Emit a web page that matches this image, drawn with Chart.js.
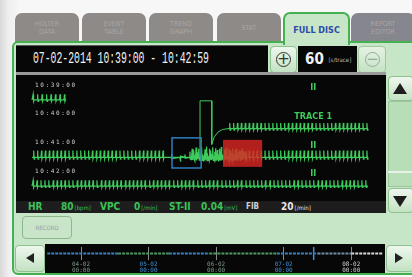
<!DOCTYPE html>
<html>
<head>
<meta charset="utf-8">
<script src="https://cdn.jsdelivr.net/npm/chart.js@4.4.1/dist/chart.umd.min.js"></script>
<style>
body{margin:0;width:412px;height:277px;overflow:hidden;position:relative;background:linear-gradient(to right,#d8d8d8 0,#eeeeee 8px,#f7f7f7 20px);font-family:"Liberation Sans Narrow","DejaVu Sans Condensed",Arial,sans-serif}
.a{position:absolute}
.tab{position:absolute;top:13px;width:64px;height:30px;background:#8e8a88;border-radius:7px 7px 0 0;color:#a9a5a2;font-size:7px;line-height:8px;text-align:center;display:flex;align-items:center;justify-content:center}
#panel{left:12px;top:41px;width:412px;height:230px;background:#c7e6c7;border:2px solid #45b04f;border-radius:6px}
#tabOn{top:12px;left:283px;width:63px;height:31px;background:#c7e6c7;border:2px solid #45b04f;border-bottom:none;border-radius:7px 7px 0 0;color:#2d4aa8;font-weight:bold;font-size:9px;display:flex;align-items:center;justify-content:center;z-index:3}
.blk{background:#070707}
.btn{background:linear-gradient(#eef7ee,#c3e2c3);border:1px solid #8fc08f;border-radius:4px;box-sizing:border-box}
.tri{position:absolute;width:0;height:0}
.st{position:absolute;top:201px;height:12px;line-height:12px;font-weight:bold;font-size:10px;color:#3cc356}
.st small{font-size:6px;font-weight:normal;margin-left:1px}
</style>
</head>
<body>
<div class="tab" style="left:15px">HOLTER<br>DATA</div>
<div class="tab" style="left:82px">EVENT<br>TABLE</div>
<div class="tab" style="left:149px">TREND<br>GRAPH</div>
<div class="tab" style="left:217px">STAT</div>
<div class="tab" style="left:351px;background:#85868e">REPORT<br>EDITOR</div>
<div id="panel" class="a"></div>
<div id="tabOn" class="a">FULL DISC</div>

<div class="a blk" style="left:16px;top:45px;width:252px;height:27px;border-top:1px solid #5a5a5a"></div>
<div class="a" style="left:33px;top:49px;color:#f2f2f2;font-family:'Liberation Mono',monospace;font-size:17px;line-height:20px;white-space:nowrap;transform:scaleX(0.575);transform-origin:0 0">07-02-2014 10:39:00 - 10:42:59</div>
<div class="a btn" style="left:270px;top:46px;width:27px;height:27px"></div>
<div class="a" style="left:276px;top:52px;width:13px;height:13px;border:1.5px solid #333;border-radius:50%;color:#333;font-size:15px;line-height:13px;text-align:center;font-family:'DejaVu Sans',sans-serif">+</div>
<div class="a blk" style="left:298px;top:46px;width:59px;height:27px"></div>
<div class="a" style="left:305px;top:49px;color:#f2f2f2;font-weight:bold;font-size:15px;line-height:20px">60 <span style="font-size:6px;font-weight:normal;color:#bbb;vertical-align:middle">[s/trace]</span></div>
<div class="a btn" style="left:358px;top:46px;width:28px;height:27px;opacity:.75"></div>
<div class="a" style="left:365px;top:52px;width:13px;height:13px;border:1.5px solid #9aaa9a;border-radius:50%;color:#9aaa9a;font-size:15px;line-height:13px;text-align:center;font-family:'DejaVu Sans',sans-serif">&minus;</div>

<div class="a" style="left:16px;top:72px;width:370px;height:3px;background:#9a9a9a"></div>
<div class="a blk" style="left:16px;top:75px;width:370px;height:126px"></div>
<div class="a" style="left:16px;top:201px;width:370px;height:12px;background:#1d1d1d"></div>
<canvas id="ecgChart" class="a" width="370" height="126" style="left:16px;top:75px"></canvas>

<div class="st" style="left:28px">HR</div>
<div class="st" style="left:61px">80<small>[bpm]</small></div>
<div class="st" style="left:100px">VPC</div>
<div class="st" style="left:134px">0<small>[/min]</small></div>
<div class="st" style="left:169px">ST-II</div>
<div class="st" style="left:201px">0.04<small>[mV]</small></div>
<div class="st" style="left:246px;color:#cfcfcf;font-size:8px">FIB</div>
<div class="st" style="left:281px;color:#e8e8e8">20<small>[/min]</small></div>

<div class="a btn" style="left:388px;top:76px;width:26px;height:25px"></div>
<div class="tri" style="left:393px;top:83px;border-left:7px solid transparent;border-right:7px solid transparent;border-bottom:11px solid #1e1e1e"></div>
<div class="a" style="left:388px;top:101px;width:26px;height:86px;background:#b8deb8;border:1px solid #9cc69c;box-sizing:border-box"></div>
<div class="a" style="left:388px;top:171px;width:26px;height:2px;background:#e6f3e6"></div>
<div class="a btn" style="left:388px;top:188px;width:26px;height:25px"></div>
<div class="tri" style="left:393px;top:196px;border-left:7px solid transparent;border-right:7px solid transparent;border-top:11px solid #1e1e1e"></div>

<div class="a btn" style="left:22px;top:216px;width:50px;height:23px;background:#c9e5c9;border-color:#8db88d;color:#9a9a9a;font-size:6px;line-height:21px;text-align:center">RECORD</div>

<div class="a btn" style="left:15px;top:245px;width:30px;height:27px"></div>
<div class="tri" style="left:26px;top:253px;border-top:5px solid transparent;border-bottom:5px solid transparent;border-right:8px solid #222"></div>
<div class="a blk" style="left:45px;top:244px;width:340px;height:29px"></div>
<canvas id="timeChart" class="a" width="340" height="29" style="left:45px;top:244px"></canvas>
<div class="a btn" style="left:386px;top:245px;width:28px;height:27px"></div>
<div class="tri" style="left:395px;top:253px;border-top:5px solid transparent;border-bottom:5px solid transparent;border-left:8px solid #222"></div>

<script>
// seconds inside each 60 s trace
var timeLabels = ['10:39:00', '10:40:00', '10:41:00', '10:42:00'];
var leadLabels = ['II', 'TRACE 1', 'II', 'II'];

var beatsRow1 = [0.2, 1.0, 1.8, 2.6, 3.4, 4.2, 5.0, 5.8];
var beatsRow2 = [35.3, 36.0, 36.7, 37.4, 38.1, 38.8, 39.5, 40.2, 40.9, 41.6, 42.3, 43.0, 43.7, 44.4, 45.1, 45.8, 46.5, 47.2,
    47.9, 48.6, 49.3, 50.0, 50.7, 51.4, 52.1, 52.8, 53.5, 54.2, 54.9, 55.6, 56.3, 57.0, 57.7, 58.4, 59.1, 59.8];
var beatsRow3 = [0.3, 1.0, 1.7, 2.4, 3.1, 3.8, 4.5, 5.2, 5.9, 6.6, 7.3, 8.0, 8.7, 9.4, 10.1, 10.8, 11.5, 12.2, 12.9, 13.6,
    14.3, 15.0, 15.7, 16.4, 17.1, 17.8, 18.5, 19.2, 19.9, 20.6, 21.3, 22.0, 22.7, 23.4,
    38.8, 39.5, 40.2, 40.9, 41.6, 42.3, 43.0, 43.7, 44.4, 45.1, 45.8, 46.5, 47.2, 47.9, 48.6, 49.3, 50.0, 50.7, 51.4,
    52.1, 52.8, 53.5, 54.2, 54.9, 55.6, 56.3, 57.0, 57.7, 58.4, 59.1, 59.8];
var beatsRow4 = [0.2, 0.9, 1.6, 2.3, 3.0, 3.8, 4.5, 5.2, 5.9, 6.6, 7.3, 8.1, 8.8, 9.5, 10.2, 10.9, 11.6, 12.4, 13.1, 13.8,
    14.5, 15.2, 15.9, 16.7, 17.4, 18.1, 18.8, 19.5, 20.2, 21.0, 21.7, 22.4, 23.1, 23.8, 24.5, 25.3, 26.0, 26.7, 27.4,
    28.1, 28.8, 29.6, 30.3, 31.0, 31.7, 32.4, 33.1, 33.9, 34.6, 35.3, 36.0, 36.7, 37.4, 38.2, 38.9, 39.6, 40.3, 41.0,
    41.7, 42.5, 43.2, 43.9, 44.6, 45.3, 46.0, 46.8, 47.5, 48.2, 48.9, 49.6, 50.3, 51.1, 51.8, 52.5, 53.2, 53.9, 54.6,
    55.4, 56.1, 56.8, 57.5, 58.2, 58.9, 59.6];

// artefact burst on trace 3
var noiseT = [24.9, 26.5, 27.3, 28.2, 28.4, 28.6, 28.8, 28.9, 29.1, 29.3, 29.5, 29.6, 29.8, 30.0, 30.2, 30.3, 30.5, 30.7,
    30.9, 31.0, 31.2, 31.4, 31.6, 31.7, 31.9, 32.1, 32.3, 32.4, 32.6, 32.8, 33.0, 33.1, 33.3, 33.5, 33.7, 33.8, 34.0,
    34.2, 34.4, 34.5, 34.7, 34.9, 35.1, 35.2, 35.4, 35.6, 35.8, 35.9, 36.1, 36.3, 36.5, 36.6, 36.8, 37.0, 37.2, 37.3,
    37.5, 37.7, 37.9, 38.1, 38.3];
var noiseA = [0.12, -0.15, 0.1, 0.2, -0.08, 0.3, 0.12, 0.25, -0.12, 0.34, 0.18, 0.05, 0.3, -0.1, 0.22, 0.36, 0.1, -0.14,
    0.28, 0.2, 0.38, 0.06, -0.12, 0.3, 0.24, 0.12, 0.35, -0.1, 0.2, 0.32, 0.08, 0.26, -0.14, 0.3, 0.18, 0.36, 0.1,
    -0.08, 0.28, 0.22, 0.34, 0.05, 0.3, -0.12, 0.24, 0.16, 0.32, 0.1, -0.1, 0.28, 0.2, 0.3, 0.08, 0.25, -0.1, 0.22,
    0.3, 0.12, 0.2, 0.15, 0.22];

// big deflection that opens trace 2
var jumpT = [30.0, 30.0, 32.1, 32.1, 32.5, 33.2, 34.0, 35.0];
var jumpR = [1.95, 0.03, 0.03, 1.55, 1.3, 1.12, 1.03, 1.0];

// marked boxes: [from s, to s, top row, bottom row]
var blueBox = [25.0, 30.2, 1.32, 2.37];
var redBox = [34.1, 41.1, 1.39, 2.33];

// timeline (days from 04-02 00:00)
var dayTicks = [0, 1, 2, 3, 4];
var dayLabels = [['04-02', '00:00'], ['05-02', '00:00'], ['06-02', '00:00'], ['07-02', '00:00'], ['08-02', '00:00']];
var dayColors = ['#7f9c8c', '#3d8fd6', '#7f9c8c', '#3d8fd6', '#d0d0d0'];
var segFrom = [-0.5, 0.55, 1.3, 1.9, 2.9, 3.5, 4.0];
var segTo = [0.55, 1.3, 1.9, 2.9, 3.5, 4.0, 4.47];
var segColor = ['#3f7fbf', '#4f9a62', '#3f7fbf', '#4f9a62', '#3f7fbf', '#6f8fa8', '#d8d8d8'];
var cursorDay = 3.444;

var green = '#3fca5c';

function ecg(beats, row, from, to, amp) {
    var pts = [{x: from, y: row}];
    beats.forEach(function (t) {
        pts.push({x: t - 0.1, y: row}, {x: t, y: row - amp}, {x: t + 0.08, y: row + amp * 0.25}, {x: t + 0.18, y: row});
    });
    pts.push({x: to, y: row});
    return pts;
}

var noisePts = [];
noiseT.forEach(function (t, i) {
    noisePts.push({x: t - 0.07, y: 2}, {x: t, y: 2 - noiseA[i]}, {x: t + 0.07, y: 2 + noiseA[i] * 0.3});
});
var jumpPts = jumpT.map(function (t, i) { return {x: t, y: jumpR[i]}; });

function line(data, width) {
    return {data: data, borderColor: green, borderWidth: width || 1.2, pointRadius: 0, tension: 0, fill: false};
}

var overlay = {
    id: 'overlay',
    afterDatasetsDraw: function (chart) {
        var ctx = chart.ctx, x = chart.scales.x, y = chart.scales.y;
        ctx.save();
        ctx.fillStyle = 'rgba(216,38,34,0.82)';
        ctx.fillRect(x.getPixelForValue(redBox[0]), y.getPixelForValue(redBox[2]),
            x.getPixelForValue(redBox[1]) - x.getPixelForValue(redBox[0]),
            y.getPixelForValue(redBox[3]) - y.getPixelForValue(redBox[2]));
        ctx.strokeStyle = '#2f7fc0';
        ctx.lineWidth = 1.5;
        ctx.strokeRect(x.getPixelForValue(blueBox[0]), y.getPixelForValue(blueBox[2]),
            x.getPixelForValue(blueBox[1]) - x.getPixelForValue(blueBox[0]),
            y.getPixelForValue(blueBox[3]) - y.getPixelForValue(blueBox[2]));

        ctx.textBaseline = 'middle';
        ctx.fillStyle = '#cfcfcf';
        ctx.font = '6px "DejaVu Sans Mono", monospace';
        ctx.letterSpacing = '1.6px';
        timeLabels.forEach(function (t, i) {
            ctx.fillText(t, x.getPixelForValue(0.55), y.getPixelForValue(i - 0.52));
        });
        ctx.letterSpacing = '0px';
        ctx.fillStyle = green;
        ctx.textAlign = 'center';
        ctx.font = 'bold 9px "Liberation Sans Narrow", "DejaVu Sans Condensed", sans-serif';
        leadLabels.forEach(function (t, i) {
            ctx.fillText(t, x.getPixelForValue(50.2), y.getPixelForValue(i - 0.42));
        });
        ctx.restore();
    }
};

new Chart('ecgChart', {
    type: 'line',
    data: {
        datasets: [
            line(ecg(beatsRow1, 0, 0, 6.1, 0.2)),
            line(jumpPts, 1),
            line(ecg(beatsRow2, 1, 35.0, 60, 0.2)),
            line(ecg(beatsRow3, 2, 0, 60, 0.24)),
            line(noisePts, 1.3),
            line(ecg(beatsRow4, 3, 0, 60, 0.2))
        ]
    },
    options: {
        responsive: false,
        animation: false,
        devicePixelRatio: 1,
        layout: {padding: 0},
        plugins: {legend: {display: false}, tooltip: {enabled: false}},
        scales: {
            x: {type: 'linear', min: -2.86, max: 63.21, display: false},
            y: {type: 'linear', min: -0.87, max: 3.52, reverse: true, display: false}
        }
    },
    plugins: [overlay]
});

var timeSets = segFrom.map(function (f, i) {
    return {data: [{x: f, y: 0.5}, {x: segTo[i], y: 0.5}], borderColor: segColor[i], borderWidth: 2,
        borderDash: [3, 1], pointRadius: 0};
});
timeSets.push({data: [{x: cursorDay, y: 0}, {x: cursorDay, y: 1}], borderColor: '#3d8fd6', borderWidth: 1.5, pointRadius: 0});

new Chart('timeChart', {
    type: 'line',
    data: {datasets: timeSets},
    options: {
        responsive: false,
        animation: false,
        devicePixelRatio: 1,
        layout: {padding: {top: 3, left: 0, right: 0, bottom: 0}},
        plugins: {legend: {display: false}, tooltip: {enabled: false}},
        scales: {
            x: {
                type: 'linear', min: -0.533, max: 4.5,
                afterBuildTicks: function (s) { s.ticks = dayTicks.map(function (v) { return {value: v}; }); },
                ticks: {
                    autoSkip: false, maxRotation: 0, padding: 1,
                    font: {size: 6, family: '"DejaVu Sans Mono", monospace', lineHeight: 1},
                    color: function (c) { return dayColors[c.index]; },
                    callback: function (v, i) { return dayLabels[i]; }
                },
                grid: {color: '#8a8a8a', drawTicks: false, lineWidth: 1},
                border: {display: false}
            },
            y: {min: 0, max: 1, display: false}
        }
    }
});
</script>
</body>
</html>
